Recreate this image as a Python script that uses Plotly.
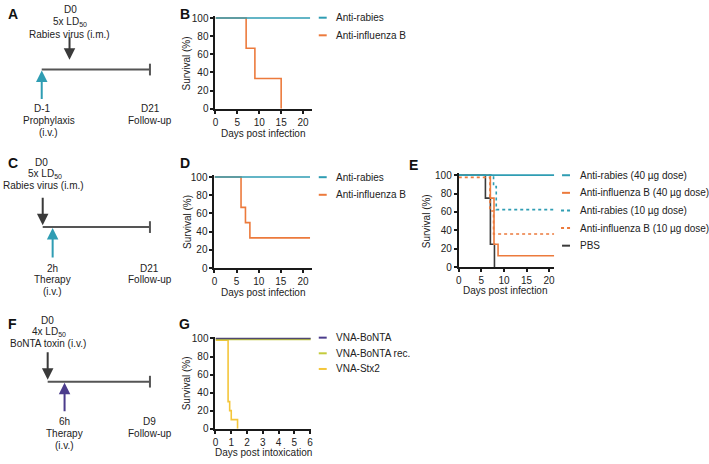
import plotly.graph_objects as go

W, H = 709, 464
FONT = "Arial, Liberation Sans, sans-serif"
TEAL = "#2f9db3"
ORANGE = "#ec7a3c"
DARK = "#3a3a3a"
PURPLE = "#4b3c8c"
YGREEN = "#c4cb3c"
GOLD = "#f4c63a"

# ---------------- data ----------------
# Panel B
b_rabies_x = [0, 21.6]
b_rabies_y = [100, 100]
b_flu_x = [0, 7, 9, 15]
b_flu_y = [100, 66.7, 33.3, 0]
# Panel D
d_rabies_x = [0, 21.6]
d_rabies_y = [100, 100]
d_flu_x = [0, 6, 7, 8, 21.6]
d_flu_y = [100, 66.7, 50, 33.3, 33.3]
# Panel E
e_rab40_x = [0, 21.2]
e_rab40_y = [100, 100]
e_flu40_x = [0, 7, 7.8, 8.7, 21.2]
e_flu40_y = [100, 75, 25, 12.5, 12.5]
e_rab10_x = [0, 7.7, 8.3, 21.2]
e_rab10_y = [100, 87.5, 62.5, 62.5]
e_flu10_x = [0, 6.9, 7.7, 21.2]
e_flu10_y = [97.5, 61, 36, 36]
e_pbs_x = [0, 5.9, 7.0, 7.9]
e_pbs_y = [100, 75, 25, 0]
# Panel G
g_bonta_x = [0, 6.05]
g_bonta_y = [100, 100]
g_rec_x = [0, 6.05]
g_rec_y = [99, 99]
g_stx_x = [0, 0.8, 0.9, 1.0, 1.4]
g_stx_y = [98, 30, 20, 10, 0]

y_ticks = [0, 20, 40, 60, 80, 100]
x_ticks_days = [0, 5, 10, 15, 20]
x_ticks_g = [0, 1, 2, 3, 4, 5, 6]


def X(px):
    return px / W


def Y(py):
    return 1 - py / H


fig = go.Figure()


def add_line(x, y, color, ax, dash="solid", width=1.6):
    fig.add_trace(go.Scatter(x=x, y=y, mode="lines", line=dict(color=color, width=width, dash=dash, shape="hv"),
                             xaxis="x" + ax, yaxis="y" + ax, showlegend=False, hoverinfo="skip"))


add_line(b_flu_x, b_flu_y, ORANGE, "")
add_line(b_rabies_x, b_rabies_y, TEAL, "")
add_line(d_flu_x, d_flu_y, ORANGE, "2")
add_line(d_rabies_x, d_rabies_y, TEAL, "2")
add_line(e_pbs_x, e_pbs_y, DARK, "3")
add_line(e_flu40_x, e_flu40_y, ORANGE, "3")
add_line(e_flu10_x, e_flu10_y, ORANGE, "3", dash="dot")
add_line(e_rab10_x, e_rab10_y, TEAL, "3", dash="dot")
add_line(e_rab40_x, e_rab40_y, TEAL, "3")
add_line(g_stx_x, g_stx_y, GOLD, "4")
add_line(g_rec_x, g_rec_y, YGREEN, "4")
add_line(g_bonta_x, g_bonta_y, "#4f4870", "4")


def axis_pair(xpx0, xpx1, ypx_top, ypx_bot, xrange, yrange, xticks):
    common = dict(showline=True, linecolor="#1a1a1a", linewidth=2, ticks="outside", ticklen=3, tickwidth=1.5,
                  tickcolor="#1a1a1a", showgrid=False, zeroline=False,
                  tickfont=dict(family=FONT, size=10, color="#222"), fixedrange=True)
    xa = dict(common, domain=[X(xpx0), X(xpx1)], range=xrange, tickvals=xticks)
    ya = dict(common, domain=[Y(ypx_bot), Y(ypx_top)], range=yrange, tickvals=y_ticks)
    return xa, ya


xa1, ya1 = axis_pair(214, 311, 12.5, 107, [0, 22], [0, 102], x_ticks_days)
xa2, ya2 = axis_pair(213, 311, 175, 270, [0, 22], [0, 102], x_ticks_days)
xa3, ya3 = axis_pair(459, 555, 173, 269, [0, 21.1], [0, 102], x_ticks_days)
xa4, ya4 = axis_pair(214, 310, 340, 434, [0, 6.05], [0, 102], x_ticks_g)
ya1["anchor"] = "x"; xa1["anchor"] = "y"
ya2["anchor"] = "x2"; xa2["anchor"] = "y2"
ya3["anchor"] = "x3"; xa3["anchor"] = "y3"
ya4["anchor"] = "x4"; xa4["anchor"] = "y4"

annotations = []
shapes = []


def txt(s, xpx, ypx, size=10, bold=False, angle=0, xanchor="center", color="#222"):
    if bold:
        s = "<b>" + s + "</b>"
    annotations.append(dict(text=s, x=X(xpx), y=Y(ypx), xref="paper", yref="paper", showarrow=False,
                            xanchor=xanchor, yanchor="middle", textangle=angle,
                            font=dict(family=FONT, size=size, color=color)))


def arrow(xpx, tip_y, tail_y, color):
    annotations.append(dict(text="", x=X(xpx), y=Y(tip_y), xref="paper", yref="paper", showarrow=True,
                            ax=0, ay=tail_y - tip_y, arrowhead=2, arrowsize=1.15, arrowwidth=2, arrowcolor=color))


def hline(x0, x1, y, color="#555", width=2, dash="solid"):
    shapes.append(dict(type="line", xref="paper", yref="paper", x0=X(x0), x1=X(x1), y0=Y(y), y1=Y(y),
                       line=dict(color=color, width=width, dash=dash)))


def vline(x, y0, y1, color="#555", width=2):
    shapes.append(dict(type="line", xref="paper", yref="paper", x0=X(x), x1=X(x), y0=Y(y0), y1=Y(y1),
                       line=dict(color=color, width=width)))


# Panel labels
txt("A", 10, 10, size=14, bold=True, color="#111")
txt("B", 183, 10, size=14, bold=True, color="#111")
txt("C", 10, 163, size=14, bold=True, color="#111")
txt("D", 183, 163, size=14, bold=True, color="#111")
txt("E", 413, 165, size=14, bold=True, color="#111")
txt("F", 10, 327, size=14, bold=True, color="#111")
txt("G", 183, 327, size=14, bold=True, color="#111")

# Timeline A
txt("D0", 68, 6); txt("5x LD<sub>50</sub>", 67, 18); txt("Rabies virus (i.m.)", 67, 31)
hline(39, 148, 67); vline(148, 61, 73)
arrow(67, 57, 33, DARK)
arrow(39, 68, 98, TEAL)
txt("D-1", 40, 107); txt("Prophylaxis", 46, 119); txt("(i.v.)", 46, 131)
txt("D21", 149, 107); txt("Follow-up", 148, 119)

# Timeline C
txt("D0", 39, 162); txt("5x LD<sub>50</sub>", 42, 174); txt("Rabies virus (i.m.)", 41, 186)
hline(40, 148, 228); vline(148, 222, 234)
arrow(40, 226, 197, DARK)
arrow(50, 229, 260, TEAL)
txt("2h", 50, 270); txt("Therapy", 50, 282); txt("(i.v.)", 50, 294)
txt("D21", 148, 270); txt("Follow-up", 148, 282)

# Timeline F
txt("D0", 45, 323); txt("4x LD<sub>50</sub>", 46, 335); txt("BoNTA toxin (i.v.)", 45, 347)
hline(45, 148, 386); vline(148, 380, 392)
arrow(45, 384, 355, DARK)
arrow(62, 387, 417, PURPLE)
txt("6h", 62, 427); txt("Therapy", 62, 439); txt("(i.v.)", 62, 451)
txt("D9", 148, 427); txt("Follow-up", 148, 439)

# Axis titles
txt("Survival (%)", 185, 61, angle=-90)
txt("Survival (%)", 185, 223, angle=-90)
txt("Survival (%)", 426, 222, angle=-90)
txt("Survival (%)", 185, 388, angle=-90)
txt("Days post infection", 262, 132)
txt("Days post infection", 262, 295)
txt("Days post infection", 506, 293)
txt("Days post intoxication", 262, 458)


def legend_item(label, color, sx0, sx1, tx, y, dash="solid"):
    hline(sx0, sx1, y, color=color, width=2, dash=dash)
    txt(label, tx, y, xanchor="left")


legend_item("Anti-rabies", TEAL, 318, 326, 333, 14)
legend_item("Anti-influenza B", ORANGE, 318, 326, 333, 32)
legend_item("Anti-rabies", TEAL, 318, 326, 333, 177)
legend_item("Anti-influenza B", ORANGE, 318, 326, 333, 195)
legend_item("Anti-rabies (40 µg dose)", TEAL, 563, 571, 579, 175)
legend_item("Anti-influenza B (40 µg dose)", ORANGE, 563, 571, 579, 193)
legend_item("Anti-rabies (10 µg dose)", TEAL, 562, 572, 579, 211, dash="dot")
legend_item("Anti-influenza B (10 µg dose)", ORANGE, 562, 572, 579, 229, dash="dot")
legend_item("PBS", DARK, 563, 571, 579, 247)
legend_item("VNA-BoNTA", PURPLE, 318, 326, 333, 341)
legend_item("VNA-BoNTA rec.", YGREEN, 318, 326, 333, 357)
legend_item("VNA-Stx2", GOLD, 318, 326, 333, 373)

fig.update_layout(
    width=W, height=H, margin=dict(l=0, r=0, t=0, b=0),
    paper_bgcolor="white", plot_bgcolor="white",
    font=dict(family=FONT, size=10, color="#222"),
    xaxis=xa1, yaxis=ya1, xaxis2=xa2, yaxis2=ya2, xaxis3=xa3, yaxis3=ya3, xaxis4=xa4, yaxis4=ya4,
    annotations=annotations, shapes=shapes, showlegend=False,
)

fig.write_html("out.html", config={"displayModeBar": False},
               post_script="document.body.style.margin='0px';document.body.style.overflow='hidden';")
